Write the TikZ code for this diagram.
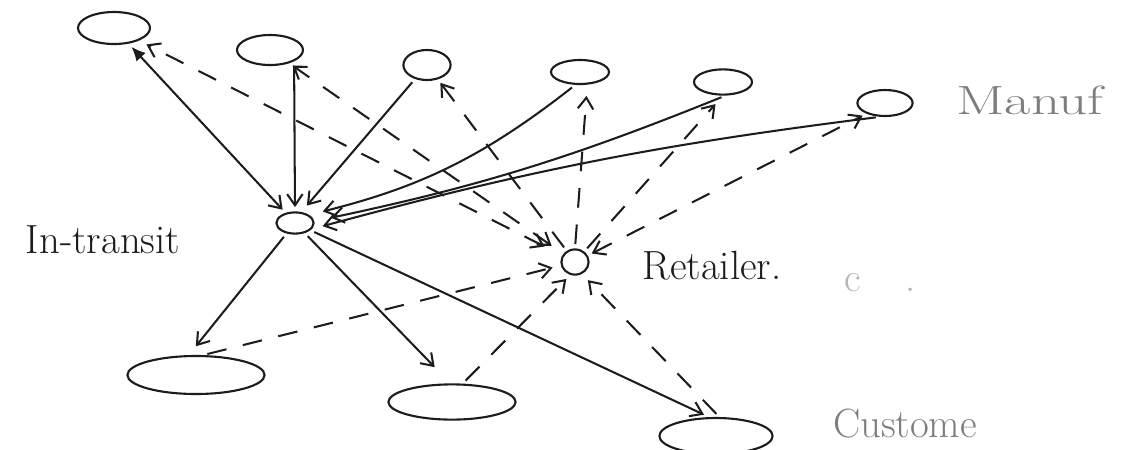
\documentclass[tikz,border=0pt]{standalone}
\usetikzlibrary{arrows.meta,shapes.geometric}
\definecolor{pencil}{RGB}{28,28,28}
\definecolor{faint}{RGB}{125,125,125}
\definecolor{fainter}{RGB}{180,180,180}

\begin{document}
\begin{tikzpicture}[x=0.025cm,y=-0.025cm,>={Straight Barb[length=8pt,width=11pt]},
  line width=1.45pt, draw=pencil,
  site/.style={draw,ellipse,inner sep=0pt,line width=1.5pt},
  flow/.style={->,shorten >=3pt,shorten <=3pt},
  info/.style={->,dash pattern=on 14pt off 12pt,shorten >=3pt,shorten <=3pt},
  lbl/.style={font=\fontsize{29}{33}\selectfont,text=pencil}]
  \useasboundingbox[fill=white] (0,0) rectangle (1126,449);

  % manufacturers along the top
  \node[site,minimum width=1.8cm,minimum height=0.8cm] (mf1) at (114,28) {};
  \node[site,minimum width=1.65cm,minimum height=0.75cm] (mf2) at (270,50) {};
  \node[site,minimum width=1.18cm,minimum height=0.75cm] (mf3) at (427,65) {};
  \node[site,minimum width=1.45cm,minimum height=0.6cm] (mf4) at (580,72) {};
  \node[site,minimum width=1.45cm,minimum height=0.63cm] (mf5) at (723,82) {};
  \node[site,minimum width=1.38cm,minimum height=0.65cm] (mf6) at (885,103) {};

  % hubs
  \node[site,minimum width=0.93cm,minimum height=0.53cm] (intr) at (295,223) {};
  \node[site,minimum width=0.68cm,minimum height=0.63cm] (ret) at (575,262) {};

  % customers
  \node[site,minimum width=3.43cm,minimum height=0.95cm] (cu1) at (196,375) {};
  \node[site,minimum width=3.18cm,minimum height=0.88cm] (cu2) at (452,402) {};
  \node[site,minimum width=2.83cm,minimum height=0.9cm] (cu3) at (716,436) {};

  % labels
  \node[lbl] (lintr) at (103,240) {In-transit};
  \node[lbl] (lret) at (712,266) {Retailer.};
  \node[lbl,text=faint] (lmanuf) at (1030,100) {\scalebox{1.4}[1]{Manuf}};
  \node[lbl,text=faint] (lcust) at (905,424) {Custome};
  \node[lbl,text=fainter] (lc) at (880,283) {c\hspace{1.1cm}.};

  % goods flow (solid)
  \draw[flow,{Latex[length=10pt,width=9pt]}->] (mf1) -- (intr);
  \draw[flow] (mf2.south east) -- (intr.north);
  \draw[flow,shorten >=6pt] (mf3) -- (intr.60);
  \draw[flow,shorten >=10pt] (mf4.-110) to[bend left=12] (intr.30);
  \draw[flow,shorten >=12pt] (mf5.-80) to[bend left=5] (intr.5);
  \draw[flow,shorten >=8pt] (mf6.-110) to[bend right=4] (intr.-20);
  \draw[flow,shorten >=8pt] (intr) -- (cu1.110);
  \draw[flow,shorten >=16pt] (intr) -- (cu2.95);
  \draw[flow,shorten >=4pt] (intr) -- (cu3.110);

  % orders (dashed)
  \draw[info,<->,shorten >=6pt,shorten <=14pt] (ret) -- (mf1);
  \draw[info,<->,shorten <=10pt] (ret) -- (mf2);
  \draw[info] (ret) -- (mf3);
  \draw[info,shorten >=8pt] (ret.north) -- (mf4.-60);
  \draw[info,shorten >=8pt] (ret) -- (mf5.-90);
  \draw[info,<->] (ret) -- (mf6.-150);
  \draw[info,shorten >=6pt] (cu1.70) -- (ret);
  \draw[info,shorten >=4pt] (cu2.60) -- (ret.-110);
  \draw[info,shorten >=6pt] (cu3.80) -- (ret.-60);
\end{tikzpicture}
\end{document}
